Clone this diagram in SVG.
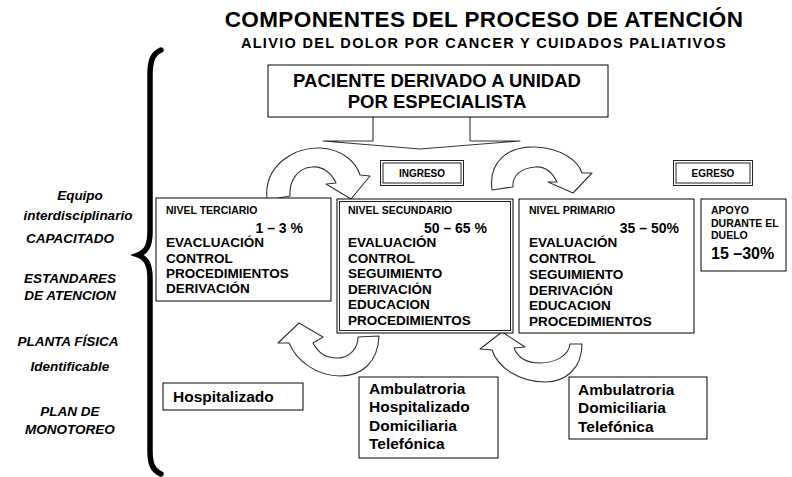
<svg xmlns="http://www.w3.org/2000/svg" width="792" height="477" viewBox="0 0 792 477">
<style>
text{font-family:"Liberation Sans",Arial,sans-serif;font-weight:bold;fill:#000}
.box{fill:#fff;stroke:#000;stroke-width:1}
.dbl{fill:none;stroke:#222;stroke-width:1}
.arr{fill:#fff;stroke:#333;stroke-width:1.1;stroke-linejoin:round}
.lbl{font-style:italic;font-size:13.5px;text-anchor:middle}
.sm{font-size:10.5px}
.md{font-size:13.5px}
.lg{font-size:15.5px}
.pct{font-size:14px;text-anchor:end}
</style>
<rect width="792" height="477" fill="#fff"/>
<g id="title">
<text x="484" y="27" font-size="22.5" letter-spacing="0.4" text-anchor="middle">COMPONENTES DEL PROCESO DE ATENCIÓN</text>
<text x="484" y="48" font-size="14.5" letter-spacing="1.3" text-anchor="middle">ALIVIO DEL DOLOR POR CANCER Y CUIDADOS PALIATIVOS</text>
</g>
<g id="brace">
<path d="M161,50 C152,54 150,62 150,75 L150,232 C150,246 146,252 138,255 C146,258 150,264 150,278 L150,450 C150,463 152,470 161,474" fill="none" stroke="#000" stroke-width="5.5" stroke-linecap="round"/>
</g>
<g id="labels">
<text class="lbl" x="80" y="200">Equipo</text>
<text class="lbl" x="78" y="220">interdisciplinario</text>
<text class="lbl" x="70" y="243">CAPACITADO</text>
<text class="lbl" x="70" y="283">ESTANDARES</text>
<text class="lbl" x="70" y="300">DE ATENCION</text>
<text class="lbl" x="68" y="346">PLANTA FÍSICA</text>
<text class="lbl" x="70" y="371">Identificable</text>
<text class="lbl" x="70" y="416">PLAN DE</text>
<text class="lbl" x="70" y="434">MONOTOREO</text>
</g>
<g id="connectors">
<path class="arr" d="M373,117 V141 H323 L420,149 L520,141 H470 V117"/>
<path class="arr" d="M267,200 C263,165 295,147 320,148 C342,149 356,162 360,175 L370,176 L351,199 L326,184 L336,183 C331,172 322,166 312,167 C298,168 289,180 290,196 Z"/>
<path class="arr" d="M492,190 C488,160 510,146 535,147 C560,148 578,160 582,173 L592,173 L573,193 L548,182 L557,182 C552,172 545,166 535,167 C522,168 512,175 513,187 Z"/>
<path class="arr" d="M379,336 C378,362 362,376 340,376 C318,376 297,362 289,343 L278,343 L299,323 L323,337 L313,343 C318,353 326,358 337,358 C350,358 358,348 358,337 Z"/>
<path class="arr" d="M582,344 C582,368 566,382 545,382 C520,382 498,368 492,350 L480,349 L502,332 L525,347 L514,348 C518,358 527,363 540,363 C556,363 569,355 570,344 Z"/>
</g>
<g id="paciente">
<rect class="box" x="268" y="65" width="340" height="52"/>
<text x="437" y="87" font-size="18.5" text-anchor="middle">PACIENTE DERIVADO A UNIDAD</text>
<text x="437" y="108" font-size="18.5" text-anchor="middle">POR ESPECIALISTA</text>
</g>
<g id="ingreso">
<rect class="dbl" x="380.5" y="160.5" width="83" height="25"/>
<rect class="dbl" x="383" y="163" width="78" height="20"/>
<text x="422" y="177" font-size="10" text-anchor="middle">INGRESO</text>
</g>
<g id="egreso">
<rect class="dbl" x="673.5" y="160.5" width="79" height="25"/>
<rect class="dbl" x="676" y="163" width="74" height="20"/>
<text x="713" y="177" font-size="10" text-anchor="middle">EGRESO</text>
</g>
<g id="terciario">
<rect class="box" x="156" y="198" width="175" height="103"/>
<text class="sm" x="166" y="214">NIVEL TERCIARIO</text>
<text class="pct" x="303" y="233">1 – 3 %</text>
<text class="md" x="166" y="247">EVACLUACIÓN</text>
<text class="md" x="166" y="263">CONTROL</text>
<text class="md" x="166" y="278">PROCEDIMIENTOS</text>
<text class="md" x="166" y="293">DERIVACIÓN</text>
</g>
<g id="secundario">
<rect class="box" x="337" y="199" width="176" height="134"/>
<rect class="dbl" x="339.5" y="201.5" width="171" height="129"/>
<text class="sm" x="348" y="214">NIVEL SECUNDARIO</text>
<text class="pct" x="487" y="233">50 – 65 %</text>
<text class="md" x="348" y="247">EVALUACIÓN</text>
<text class="md" x="348" y="263">CONTROL</text>
<text class="md" x="348" y="278">SEGUIMIENTO</text>
<text class="md" x="348" y="294">DERIVACIÓN</text>
<text class="md" x="348" y="309">EDUCACION</text>
<text class="md" x="348" y="325">PROCEDIMIENTOS</text>
</g>
<g id="primario">
<rect class="box" x="519" y="199" width="175" height="134"/>
<text class="sm" x="529" y="214">NIVEL PRIMARIO</text>
<text class="pct" x="679" y="233">35 – 50%</text>
<text class="md" x="529" y="247">EVALUACIÓN</text>
<text class="md" x="529" y="263">CONTROL</text>
<text class="md" x="529" y="279">SEGUIMIENTO</text>
<text class="md" x="529" y="295">DERIVACIÓN</text>
<text class="md" x="529" y="310">EDUCACION</text>
<text class="md" x="529" y="326">PROCEDIMIENTOS</text>
</g>
<g id="apoyo">
<rect class="box" x="701" y="199" width="85" height="72"/>
<text class="sm" x="711" y="214">APOYO</text>
<text class="sm" x="711" y="227">DURANTE EL</text>
<text class="sm" x="711" y="239">DUELO</text>
<text x="711" y="259" font-size="16">15 –30%</text>
</g>
<g id="hospitalizado">
<rect class="box" x="163" y="383" width="140" height="27"/>
<text class="lg" x="173" y="402">Hospitalizado</text>
</g>
<g id="modalidades-secundario">
<rect class="box" x="359" y="377" width="139" height="81"/>
<text class="lg" x="369" y="394">Ambulatroria</text>
<text class="lg" x="369" y="412">Hospitalizado</text>
<text class="lg" x="369" y="431">Domiciliaria</text>
<text class="lg" x="369" y="449">Telefónica</text>
</g>
<g id="modalidades-primario">
<rect class="box" x="569" y="377" width="138" height="62"/>
<text class="lg" x="578" y="395">Ambulatroria</text>
<text class="lg" x="578" y="413">Domiciliaria</text>
<text class="lg" x="578" y="432">Telefónica</text>
</g>
</svg>
